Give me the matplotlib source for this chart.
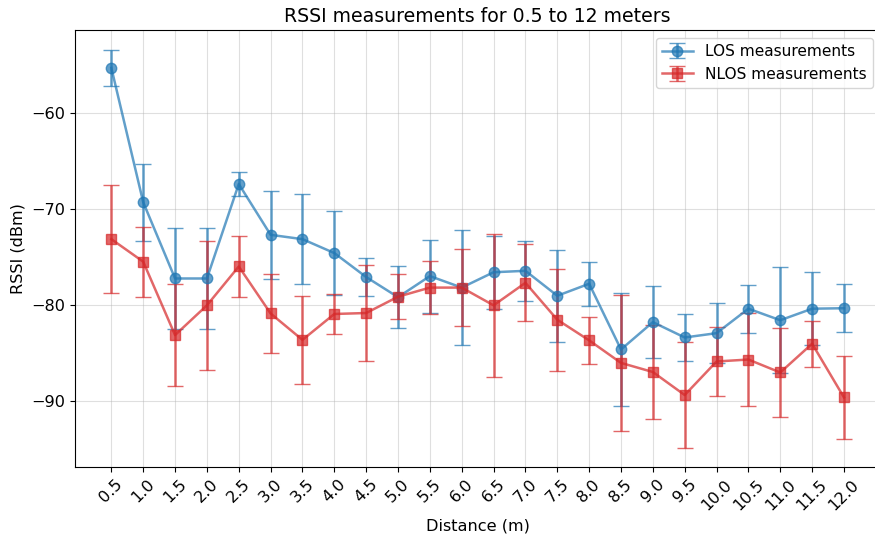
import numpy as np
import matplotlib
matplotlib.use("Agg")
import matplotlib.pyplot as plt

# Distances (m)
distances = [0.5, 1.0, 1.5, 2.0, 2.5, 3.0, 3.5, 4.0, 4.5, 5.0, 5.5, 6.0,
             6.5, 7.0, 7.5, 8.0, 8.5, 9.0, 9.5, 10.0, 10.5, 11.0, 11.5, 12.0]

# LOS mean RSSI and std
los_mean = [-55.3, -69.3, -77.25, -77.25, -67.4, -72.7, -73.15, -74.6, -77.1, -79.2, -77.0, -78.2,
            -76.6, -76.45, -79.05, -77.8, -84.65, -81.8, -83.4, -82.95, -80.4, -81.6, -80.4, -80.35]
los_std = [1.85, 4.0, 5.3, 5.3, 1.3, 4.6, 4.7, 4.4, 2.0, 3.2, 3.8, 6.0,
           3.8, 3.1, 4.8, 2.3, 5.9, 3.75, 2.4, 3.1, 2.5, 5.5, 3.8, 2.5]

# NLOS mean RSSI and std
nlos_mean = [-73.15, -75.5, -83.15, -80.05, -76.0, -80.9, -83.65, -80.95, -80.85, -79.15, -78.2, -78.2,
             -80.05, -77.7, -81.55, -83.7, -86.05, -87.0, -89.4, -85.9, -85.7, -87.05, -84.05, -89.65]
nlos_std = [5.65, 3.65, 5.35, 6.7, 3.2, 4.15, 4.55, 2.05, 5.05, 2.35, 2.8, 4.05,
            7.45, 4.0, 5.3, 2.43, 7.05, 4.85, 5.5, 3.6, 4.8, 4.6, 2.4, 4.3]

plt.rcParams['font.size'] = 11.6

fig, ax = plt.subplots(figsize=(8.75, 5.39), dpi=100)
# the right spine sits just past the image edge in the reference
fig.subplots_adjust(left=0.0854, right=1.0064, top=0.9443, bottom=0.1336)

ax.errorbar(distances, los_mean, yerr=los_std, fmt='-o', color='tab:blue', alpha=0.7,
            capsize=6, markersize=7.5, linewidth=1.8, label='LOS measurements')
ax.errorbar(distances, nlos_mean, yerr=nlos_std, fmt='-s', color='tab:red', alpha=0.7,
            capsize=6, markersize=7.5, linewidth=1.8, label='NLOS measurements')

ax.set_xticks(distances)
ax.set_xticklabels([str(d) for d in distances], rotation=45)
ax.set_ylim(-96.9, -51.35)
ax.set_xlabel('Distance (m)')
ax.set_ylabel('RSSI (dBm)')
ax.set_title('RSSI measurements for 0.5 to 12 meters', fontsize=13.6)
ax.grid(True, alpha=0.4)
ax.legend(loc='upper right', fontsize=11.1)

fig.savefig('out.png', dpi=100)
